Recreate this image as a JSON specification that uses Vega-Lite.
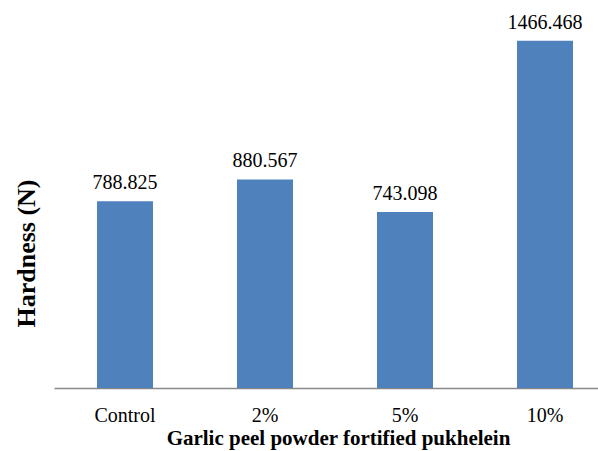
{
  "$schema": "https://vega.github.io/schema/vega-lite/v6.json",
  "autosize": {"type": "none"},
  "padding": {"left": 54, "top": 9, "right": 0, "bottom": 63},
  "width": 562,
  "height": 379,
  "background": "white",
  "config": {"view": {"stroke": null}, "font": "Liberation Serif"},
  "data": {"values": [
    {"group": "Control", "hardness": 788.825, "label": "788.825"},
    {"group": "2%", "hardness": 880.567, "label": "880.567"},
    {"group": "5%", "hardness": 743.098, "label": "743.098"},
    {"group": "10%", "hardness": 1466.468, "label": "1466.468"}
  ]},
  "encoding": {
    "x": {"field": "group", "type": "nominal", "sort": null,
      "scale": {"paddingInner": 0.6, "paddingOuter": 0.307},
      "axis": {"title": "Garlic peel powder fortified pukhelein", "labelAngle": 0, "ticks": false,
        "domainColor": "#888888", "domainWidth": 1.5, "labelFont": "Liberation Serif", "labelFontSize": 20, "labelColor": "#000000",
        "labelBaseline": "alphabetic", "labelPadding": 33,
        "titleFont": "Liberation Serif", "titleFontSize": 21, "titleFontWeight": "bold", "titleColor": "#000000",
        "titleBaseline": "alphabetic", "titleAlign": "center", "titleX": 284, "titleY": 56}},
    "y": {"field": "hardness", "type": "quantitative", "scale": {"domain": [0, 1600]},
      "axis": {"title": "Hardness (N)", "labels": false, "ticks": false, "domain": false, "grid": false,
        "titleFont": "Liberation Serif", "titleFontSize": 26, "titleFontWeight": "bold", "titleColor": "#000000",
        "titleX": -20, "titleY": 244, "titleBaseline": "alphabetic", "titleAlign": "center"}}
  },
  "layer": [
    {"mark": {"type": "bar", "color": "#4F81BD"}},
    {"mark": {"type": "text", "baseline": "alphabetic", "dy": -12, "fontSize": 20, "font": "Liberation Serif", "color": "#000000"},
     "encoding": {"text": {"field": "label"}}}
  ]
}
